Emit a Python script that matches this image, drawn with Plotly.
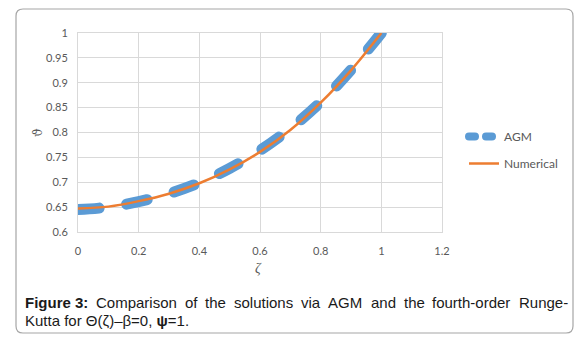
import plotly.graph_objects as go

# ---- data ----
zeta = [0.0, 0.1, 0.2, 0.3, 0.4, 0.5, 0.6, 0.7, 0.8, 0.9, 1.0]
agm = [0.645, 0.650, 0.661, 0.677, 0.699, 0.728, 0.764, 0.808, 0.861, 0.926, 1.0]
numerical = [0.647, 0.651, 0.662, 0.677, 0.698, 0.726, 0.761, 0.805, 0.860, 0.925, 1.0]
x_ticks = [0, 0.2, 0.4, 0.6, 0.8, 1.0, 1.2]
y_ticks = [0.6, 0.65, 0.7, 0.75, 0.8, 0.85, 0.9, 0.95, 1.0]
series_names = ["AGM", "Numerical"]
caption_words = ["<b>Figure 3:</b>", "Comparison", "of", "the", "solutions", "via", "AGM",
                 "and", "the", "fourth-order", "Runge-"]
caption_line2 = "Kutta for Θ(ζ)–β=0, <b>ψ</b>=1."

BLUE = "#5B9BD5"
ORANGE = "#ED7D31"
W, H = 586, 345
L, R, T, B = 78, 442, 33, 232  # plot area in pixels


def px(x):
    return (x - L) / (R - L)


def py(y):
    return (B - y) / (B - T)


fig = go.Figure()
# AGM (thick dashed)
fig.add_trace(go.Scatter(x=zeta, y=agm, mode="lines", name=series_names[0], showlegend=False,
                         line=dict(color=BLUE, width=11, dash="21px,28px", shape="spline")))
# legend-only AGM symbol
fig.add_trace(go.Scatter(x=[None], y=[None], mode="lines", name=series_names[0], legendgroup="a",
                         line=dict(color=BLUE, width=8, dash="6px,11px")))
fig.add_trace(go.Scatter(x=zeta, y=numerical, mode="lines", name=series_names[1], legendgroup="b",
                         line=dict(color=ORANGE, width=2.5, shape="spline")))

tickfont = dict(family="Lato, Liberation Sans, sans-serif", size=11, color="#595959")
fig.update_xaxes(range=[0, 1.2], tickvals=x_ticks, ticktext=[f"{v:g}" for v in x_ticks],
                 showgrid=True, gridcolor="#D9D9D9", gridwidth=1, zeroline=False,
                 showline=True, linecolor="#D9D9D9", mirror=True,
                 ticks="outside", ticklen=9, tickcolor="rgba(0,0,0,0)", tickfont=tickfont)
fig.update_yaxes(range=[0.6, 1.0], tickvals=y_ticks, ticktext=[f"{v:g}" for v in y_ticks],
                 showgrid=True, gridcolor="#D9D9D9", gridwidth=1, zeroline=False,
                 showline=True, linecolor="#D9D9D9", mirror=True,
                 ticks="outside", ticklen=7, tickcolor="rgba(0,0,0,0)", tickfont=tickfont)

# outer rounded frame
x0, y0, x1, y1, r = 16, 9, 573, 333, 7
pts = [
    ("M", x0 + r, y0), ("L", x1 - r, y0), ("Q", x1, y0, x1, y0 + r), ("L", x1, y1 - r),
    ("Q", x1, y1, x1 - r, y1), ("L", x0 + r, y1), ("Q", x0, y1, x0, y1 - r), ("L", x0, y0 + r),
    ("Q", x0, y0, x0 + r, y0),
]
path = ""
for p in pts:
    cmd = p[0]
    coords = p[1:]
    seg = []
    for i in range(0, len(coords), 2):
        seg.append(f"{px(coords[i]):.5f},{py(coords[i+1]):.5f}")
    path += cmd + " ".join(seg) + " "
path += "Z"
fig.add_shape(type="path", path=path, xref="paper", yref="paper",
              line=dict(color="#A6A6A6", width=1.2), layer="below")

annotations = []
# axis titles
annotations.append(dict(text="ϑ", x=px(38), y=py(133), xref="paper", yref="paper", showarrow=False,
                        textangle=-90, font=dict(family="DejaVu Serif, serif", size=12, color="#595959"),
                        xanchor="center", yanchor="middle"))
annotations.append(dict(text="<i>ζ</i>", x=px(258), y=py(268), xref="paper", yref="paper", showarrow=False,
                        font=dict(family="Liberation Serif, serif", size=14, color="#595959"),
                        xanchor="center", yanchor="middle"))
# caption (justified first line)
word_x = [23, 94.2, 183.0, 203.4, 232.2, 299.3, 326.4, 368.5, 401.5, 430.3, 516.6]
capfont = dict(family="Liberation Sans, Arial, sans-serif", size=15, color="#1a1a1a")
for wx, wtxt in zip(word_x, caption_words):
    annotations.append(dict(text=wtxt, x=px(wx), y=py(302), xref="paper", yref="paper", showarrow=False,
                            xanchor="left", yanchor="middle", font=capfont))
annotations.append(dict(text=caption_line2, x=px(23), y=py(320), xref="paper", yref="paper", showarrow=False,
                        xanchor="left", yanchor="middle", font=capfont))

fig.update_layout(
    width=W, height=H,
    margin=dict(l=L, r=W - R, t=T, b=H - B, pad=0),
    paper_bgcolor="white", plot_bgcolor="white",
    showlegend=True,
    legend=dict(x=px(464), y=py(122), xanchor="left", yanchor="top", tracegroupgap=8,
                font=dict(family="Lato, Liberation Sans, sans-serif", size=12, color="#595959"),
                bgcolor="rgba(0,0,0,0)", itemwidth=30),
    annotations=annotations,
)

post = ("var s=document.createElement('style');"
        "s.innerHTML='html,body{margin:0;padding:0;overflow:hidden;}"
        "path.js-line[style*=\"91, 155, 213\"]{stroke-linecap:round;}';"
        "document.head.appendChild(s);")
fig.write_html("out.html", post_script=post, config={"displayModeBar": False})
